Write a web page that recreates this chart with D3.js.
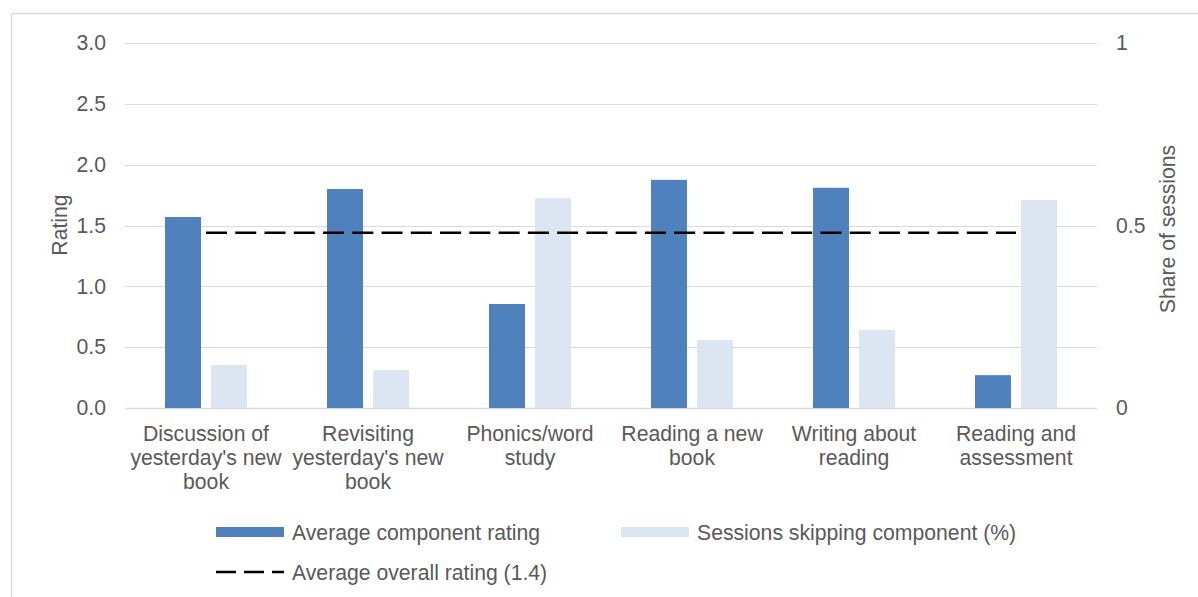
<!DOCTYPE html>
<html>
<head>
<meta charset="utf-8">
<script src="https://cdn.jsdelivr.net/npm/d3@7/dist/d3.min.js"></script>
<style>
  html, body { margin: 0; padding: 0; background: #fff; }
  svg { display: block; font-family: "Liberation Sans", Arial, sans-serif; }
</style>
</head>
<body>
<svg id="chart" width="1198" height="597"></svg>
<script>
// Lesson components
const categories = [
  "Discussion of yesterday's new book",
  "Revisiting yesterday's new book",
  "Phonics/word study",
  "Reading a new book",
  "Writing about reading",
  "Reading and assessment"
];
// Average component rating (left axis, 0-3)
const ratings = [1.57, 1.80, 0.855, 1.875, 1.81, 0.27];
// Share of sessions skipping the component (right axis, 0-1)
const skipShare = [0.118, 0.104, 0.575, 0.186, 0.214, 0.570];
// Average overall rating across components
const overallRating = 1.44;

const ratingTicks = [0, 0.5, 1.0, 1.5, 2.0, 2.5, 3.0];
const shareTicks = [0, 0.5, 1];
const seriesKeys = ["rating", "skip"];
const legendLabels = [
  "Average component rating",
  "Sessions skipping component (%)",
  "Average overall rating (" + d3.format(".1f")(overallRating) + ")"
];

const textColor = "#595959";
const gridColor = "#d9d9d9";
const darkBlue = "#4f81bd";
const lightBlue = "#dce6f2";
const fontSize = 21.2;

const svg = d3.select("#chart");

const plot = { left: 125, right: 1097, top: 43, bottom: 408 };

const x = d3.scaleBand().domain(categories).range([plot.left, plot.right]).padding(0);
const xs = d3.scaleBand().domain(seriesKeys).range([0, x.bandwidth()])
  .paddingInner(10 / 46).paddingOuter(40 / 46);
const yL = d3.scaleLinear().domain([0, 3]).range([plot.bottom, plot.top]);
const yR = d3.scaleLinear().domain([0, 1]).range([plot.bottom, plot.top]);

// Chart frame (top and left edges)
svg.append("line").attr("x1", 11).attr("x2", 1198).attr("y1", 13.5).attr("y2", 13.5)
  .attr("stroke", gridColor).attr("stroke-width", 1.3);
svg.append("line").attr("x1", 11.5).attr("x2", 11.5).attr("y1", 13).attr("y2", 597)
  .attr("stroke", gridColor).attr("stroke-width", 1.3);

// Gridlines
svg.append("g").selectAll("line").data(ratingTicks).join("line")
  .attr("x1", plot.left).attr("x2", plot.right)
  .attr("y1", d => Math.round(yL(d)) + 0.5).attr("y2", d => Math.round(yL(d)) + 0.5)
  .attr("stroke", gridColor).attr("stroke-width", d => d === 0 ? 1.5 : 1.2);

// Bars
const groups = svg.append("g").selectAll("g").data(categories).join("g")
  .attr("transform", d => `translate(${x(d)},0)`);

groups.append("rect")
  .attr("x", xs("rating")).attr("width", xs.bandwidth())
  .attr("y", (d, i) => yL(ratings[i]))
  .attr("height", (d, i) => yL(0) - yL(ratings[i]))
  .attr("fill", darkBlue);

groups.append("rect")
  .attr("x", xs("skip")).attr("width", xs.bandwidth())
  .attr("y", (d, i) => yR(skipShare[i]))
  .attr("height", (d, i) => yR(0) - yR(skipShare[i]))
  .attr("fill", lightBlue);

// Average overall rating line
svg.append("line")
  .attr("x1", x(categories[0]) + x.bandwidth() / 2)
  .attr("x2", x(categories[categories.length - 1]) + x.bandwidth() / 2)
  .attr("y1", yL(overallRating)).attr("y2", yL(overallRating))
  .attr("stroke", "#000").attr("stroke-width", 2.6)
  .attr("stroke-dasharray", "21,8.26");

// Axes
function styleAxis(g) {
  g.select(".domain").remove();
  g.selectAll("line").remove();
  g.selectAll("text").attr("fill", textColor).attr("font-size", fontSize)
    .attr("font-family", "'Liberation Sans', Arial, sans-serif");
}

svg.append("g").attr("transform", `translate(${plot.left},0)`)
  .call(d3.axisLeft(yL).tickValues(ratingTicks).tickFormat(d3.format(".1f")).tickSize(0).tickPadding(19))
  .call(styleAxis);

svg.append("g").attr("transform", `translate(${plot.right},0)`)
  .call(d3.axisRight(yR).tickValues(shareTicks).tickFormat(d3.format("")).tickSize(0).tickPadding(19))
  .call(styleAxis);

const xAxis = svg.append("g").attr("transform", `translate(0,${plot.bottom})`)
  .call(d3.axisBottom(x).tickSize(0).tickPadding(0))
  .call(styleAxis);

// Wrap category labels to the band width
function wrap(text, width) {
  text.each(function() {
    const t = d3.select(this);
    const words = t.text().split(/\s+/);
    t.text(null);
    let line = [];
    let lines = [];
    const probe = t.append("tspan");
    words.forEach(w => {
      line.push(w);
      probe.text(line.join(" "));
      if (probe.node().getComputedTextLength() > width && line.length > 1) {
        line.pop();
        lines.push(line.join(" "));
        line = [w];
      }
    });
    lines.push(line.join(" "));
    probe.remove();
    t.attr("y", 0).attr("dy", null);
    lines.forEach((l, i) => {
      t.append("tspan").attr("x", 0).attr("y", 33 + i * 24).text(l);
    });
  });
}
xAxis.selectAll(".tick text").call(wrap, x.bandwidth() - 5);

// Axis titles
svg.append("text")
  .attr("transform", "translate(59,225) rotate(-90)")
  .attr("text-anchor", "middle").attr("dominant-baseline", "central")
  .attr("fill", textColor).attr("font-size", fontSize)
  .text("Rating");

svg.append("text")
  .attr("transform", "translate(1167,229) rotate(-90)")
  .attr("text-anchor", "middle").attr("dominant-baseline", "central")
  .attr("fill", textColor).attr("font-size", fontSize)
  .text("Share of sessions");

// Legend
const legend = svg.append("g");
const legendItems = [
  { label: legendLabels[0], x: 216, y: 532, type: "bar", color: darkBlue },
  { label: legendLabels[1], x: 621, y: 532, type: "bar", color: lightBlue },
  { label: legendLabels[2], x: 216, y: 572, type: "line", color: "#000" }
];
legendItems.forEach(item => {
  const g = legend.append("g").attr("transform", `translate(${item.x},${item.y})`);
  if (item.type === "bar") {
    g.append("rect").attr("x", 0).attr("y", -5).attr("width", 68).attr("height", 10)
      .attr("fill", item.color);
  } else {
    g.append("line").attr("x1", 0).attr("x2", 68).attr("y1", 0).attr("y2", 0)
      .attr("stroke", item.color).attr("stroke-width", 2.6)
      .attr("stroke-dasharray", "20,8");
  }
  g.append("text").attr("x", 76).attr("y", 0)
    .attr("dominant-baseline", "central")
    .attr("fill", textColor).attr("font-size", fontSize)
    .text(item.label);
});
</script>
</body>
</html>
